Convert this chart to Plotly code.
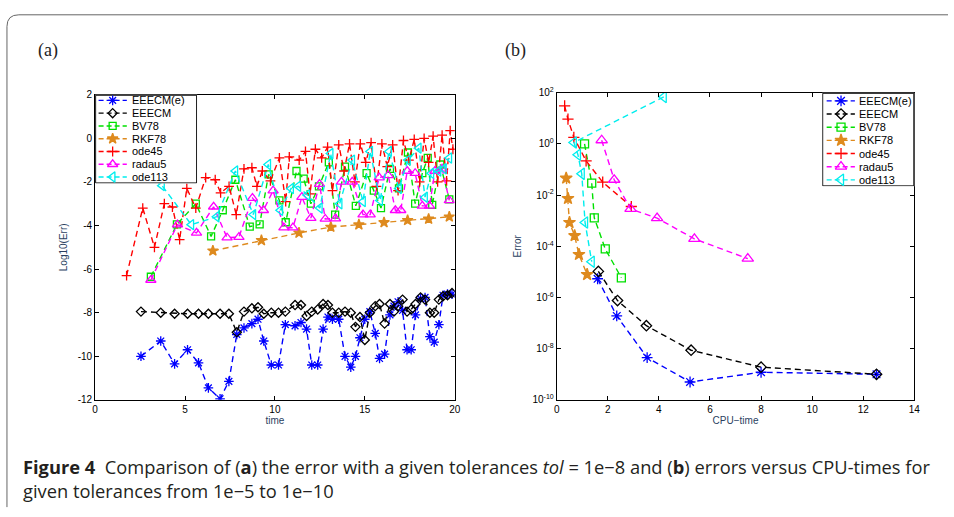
import plotly.graph_objects as go

W, H = 954, 517

# ---------------- Panel (a): Log10(Err) vs time ----------------
t_eeecm = [2.55, 3.65, 4.42, 5.14, 5.75, 6.3, 6.95, 7.44, 7.88, 8.28, 8.72, 9.06, 9.38, 9.8, 10.2,
           10.58, 11.12, 11.45, 11.76, 12.05, 12.38, 12.68, 12.95, 13.2, 13.55, 13.9, 14.22, 14.48,
           14.73, 15.0, 15.28, 15.58, 15.82, 16.1, 16.4, 16.62, 16.85, 17.1, 17.35, 17.58, 17.82,
           18.1, 18.35, 18.62, 18.86, 19.12, 19.35, 19.6, 19.85]
log_err_eeecm_e = [-10.0, -9.3, -10.35, -9.7, -10.3, -11.45, -11.95, -11.15, -9.0, -8.7, -8.5, -8.3,
                   -9.3, -10.4, -10.4, -8.55, -8.6, -8.45, -8.75, -10.4, -10.4, -8.75, -8.2, -8.3,
                   -8.3, -10.0, -10.5, -10.0, -9.15, -8.3, -7.95, -8.95, -10.1, -9.9, -8.1, -7.7,
                   -7.5, -7.9, -9.7, -9.7, -8.1, -7.35, -7.3, -9.1, -9.35, -8.55, -7.2, -7.15, -7.15]
log_err_eeecm = [-7.95, -8.0, -8.05, -8.05, -8.05, -8.05, -8.05, -8.05, -8.9, -7.95, -7.8, -7.75,
                 -8.05, -8.0, -8.0, -7.95, -7.65, -7.65, -8.15, -7.95, -7.85, -7.6, -7.65, -8.0,
                 -8.0, -7.95, -8.0, -8.65, -8.2, -9.25, -8.0, -7.7, -7.6, -8.5, -7.6, -7.95, -7.7,
                 -7.4, -7.95, -7.85, -7.6, -7.3, -7.4, -8.0, -8.0, -7.4, -7.25, -7.2, -7.1]

t_bv78 = [3.1, 4.55, 5.6, 6.45, 7.1, 7.8, 8.6, 9.15, 9.65, 10.25, 10.6, 11.2, 11.6, 12.0, 12.45,
          13.0, 13.35, 13.9, 14.5, 15.1, 15.5, 15.9, 16.4, 16.9, 17.4, 17.8, 18.2, 18.5, 18.75,
          19.2, 19.7]
log_err_bv78 = [-6.35, -3.95, -3.0, -4.5, -3.3, -1.9, -4.05, -3.95, -1.65, -2.85, -3.85, -1.5,
                -1.85, -3.0, -2.2, -1.1, -3.5, -1.3, -3.1, -1.6, -2.4, -3.2, -1.4, -2.3, -0.65,
                -3.0, -1.6, -0.9, -3.05, -1.2, -2.8]

t_rkf78 = [6.55, 9.25, 11.34, 13.11, 14.67, 16.07, 17.38, 18.55, 19.7]
log_err_rkf78 = [-5.16, -4.68, -4.34, -4.07, -3.96, -3.86, -3.76, -3.7, -3.6]

t_ode45 = [1.75, 2.65, 3.3, 3.85, 4.3, 4.7, 5.1, 5.6, 6.15, 6.68, 6.98, 7.45, 7.85, 8.28, 8.72,
           9.0, 9.3, 9.75, 10.25, 10.6, 10.8, 11.35, 11.7, 11.95, 12.25, 12.6, 12.93, 13.2,
           13.55, 13.85, 14.15, 14.45, 14.75, 15.05, 15.35, 15.65, 15.95, 16.25, 16.55, 16.85,
           17.15, 17.45, 17.75, 18.05, 18.3, 18.55, 18.8, 19.05, 19.3, 19.55, 19.75, 19.9]
log_err_ode45 = [-6.3, -3.2, -5.0, -3.0, -3.15, -4.65, -2.3, -3.2, -1.8, -1.9, -2.5, -2.2, -3.5,
                 -1.4, -1.35, -2.2, -1.5, -1.95, -0.9, -2.9, -0.85, -1.0, -0.6, -2.55, -0.5, -0.9,
                 -0.4, -2.4, -0.3, -1.5, -0.25, -2.0, -0.25, -1.1, -0.2, -2.2, -0.25, -1.3, -0.3,
                 -2.4, -0.1, -1.0, -0.05, -2.0, 0.0, -1.1, 0.1, -2.0, 0.15, -1.95, 0.35, -0.5]

t_radau5 = [3.1, 4.58, 5.64, 6.59, 7.34, 8.0, 8.75, 9.36, 9.9, 10.5, 11.0, 11.5, 12.0, 12.48,
            12.8, 13.37, 13.7, 14.3, 14.9, 15.3, 15.8, 16.3, 16.7, 17.0, 17.36, 17.8, 18.2, 18.6,
            18.9, 19.3, 19.7]
log_err_radau5 = [-6.5, -3.96, -4.34, -3.14, -4.56, -4.53, -2.74, -3.3, -2.4, -4.1, -4.1, -2.7,
                  -3.66, -2.1, -3.7, -3.68, -2.0, -2.0, -3.5, -3.5, -1.8, -1.7, -3.3, -3.3, -1.5,
                  -1.6, -3.1, -3.1, -1.5, -1.4, -2.85]

t_ode113 = [2.9, 3.72, 5.35, 6.76, 7.8, 8.8, 9.63, 10.3, 10.9, 11.3, 11.8, 12.5, 13.1, 13.6, 14.3,
            14.9, 15.3, 15.85, 16.35, 16.9, 17.4, 18.0, 18.35, 18.7, 19.1, 19.4, 19.7]
log_err_ode113 = [-1.6, -2.17, -3.96, -3.6, -1.5, -3.5, -1.2, -3.3, -2.3, -2.2, -2.6, -3.2, -0.7,
                  -3.0, -1.0, -2.9, -0.6, -2.85, -0.6, -2.3, -1.0, -0.45, -2.7, -1.6, -1.5, -1.4,
                  -0.9]

a_xticks = [0, 5, 10, 15, 20]
a_yticks = [2, 0, -2, -4, -6, -8, -10, -12]
a_ytext = ["2", "0", "-2", "-4", "-6", "-8", "-10", "-12"]

# ---------------- Panel (b): Error vs CPU-time ----------------
cpu_eeecm_e = [1.6, 2.35, 3.54, 5.22, 8.0, 12.52]
err_eeecm_e = [5.4e-6, 1.9e-7, 4.5e-9, 5.0e-10, 1.2e-9, 1.0e-9]
cpu_eeecm = [1.63, 2.38, 3.51, 5.26, 8.0, 12.52]
err_eeecm = [1.05e-5, 7.6e-7, 7.9e-8, 8.7e-9, 1.9e-9, 1.0e-9]
cpu_bv78 = [1.09, 1.37, 1.47, 1.9, 2.53]
err_bv78 = [1.0, 2.95e-2, 1.3e-3, 7.9e-5, 5.9e-6]
cpu_rkf78 = [0.37, 0.44, 0.5, 0.7, 0.87, 1.19]
err_rkf78 = [4.6e-2, 7.4e-3, 8.5e-4, 2.6e-4, 4.8e-5, 7.9e-6]
cpu_ode45 = [0.31, 0.44, 0.67, 1.15, 1.8, 2.92]
err_ode45 = [31.0, 9.3, 1.8, 0.22, 3.2e-2, 3.6e-3]
cpu_radau5 = [1.76, 2.25, 2.89, 3.93, 5.39, 7.48]
err_radau5 = [1.4, 4.0e-2, 2.9e-3, 1.26e-3, 1.95e-4, 3.3e-5]
cpu_ode113 = [4.19, 0.67, 0.83, 0.98, 1.11, 1.37]
err_ode113 = [69.0, 1.15, 0.38, 6.8e-2, 8.5e-4, 2.5e-5]

b_xticks = [0, 2, 4, 6, 8, 10, 12, 14]
b_yticks = [1e2, 1e0, 1e-2, 1e-4, 1e-6, 1e-8, 1e-10]
b_ytext = ["10<sup>2</sup>", "10<sup>0</sup>", "10<sup>-2</sup>", "10<sup>-4</sup>",
           "10<sup>-6</sup>", "10<sup>-8</sup>", "10<sup>-10</sup>"]

names = ["EEECM(e)", "EEECM", "BV78", "RKF78", "ode45", "radau5", "ode113"]
colors = ["#0000FF", "#000000", "#00E000", "#DE8A1E", "#FF0000", "#FF00FF", "#00EEEE"]
symbols = ["asterisk-open", "diamond-open", "square-open", "star", "cross-thin-open",
           "triangle-up-open", "triangle-left-open"]
size_a = [8, 7, 7, 8, 7, 9, 9]
size_b = [9, 8, 8, 9, 8, 10, 10]

series_a = [(t_eeecm, log_err_eeecm_e), (t_eeecm, log_err_eeecm), (t_bv78, log_err_bv78),
            (t_rkf78, log_err_rkf78), (t_ode45, log_err_ode45), (t_radau5, log_err_radau5),
            (t_ode113, log_err_ode113)]
series_b = [(cpu_eeecm_e, err_eeecm_e), (cpu_eeecm, err_eeecm), (cpu_bv78, err_bv78),
            (cpu_rkf78, err_rkf78), (cpu_ode45, err_ode45), (cpu_radau5, err_radau5),
            (cpu_ode113, err_ode113)]

DASH = "6px,4px"
FONT = "Liberation Sans, Arial, sans-serif"


def fx(px):
    return px / W


def fy(py):
    return 1 - py / H


def marker(i, size):
    return dict(symbol=symbols[i], size=size, color=colors[i],
                line=dict(color=colors[i], width=1.3))


fig = go.Figure()

order = [2, 3, 4, 5, 6, 0, 1]
for i in order:
    x, y = series_a[i]
    fig.add_trace(go.Scatter(x=x, y=y, mode="lines+markers", name=names[i], showlegend=False,
                             line=dict(color=colors[i], width=1.4, dash=DASH),
                             marker=marker(i, size_a[i]), xaxis="x", yaxis="y"))
for i in order:
    x, y = series_b[i]
    fig.add_trace(go.Scatter(x=x, y=y, mode="lines+markers", name=names[i], showlegend=False,
                             line=dict(color=colors[i], width=1.4, dash=DASH),
                             marker=marker(i, size_b[i]), xaxis="x2", yaxis="y2"))

# ---- custom legends (pixel-coordinate overlay axes) ----
legends = [
    dict(box=(93, 90, 196, 181), y0=95.8, dy=13.1, lx=(96.5, 125), mx=110.7, tx=128,
         xa="x3", ya="y3", sizes=size_a),
    dict(box=(827, 88, 920, 184), y0=96.3, dy=13.5, lx=(831.5, 860), mx=846, tx=862.5,
         xa="x4", ya="y4", sizes=size_b),
]
annotations = []
for lg in legends:
    x0, y0, x1, y1 = lg["box"]
    fig.add_trace(go.Scatter(x=[x0 + 0.5, x1 - 0.5, x1 - 0.5, x0 + 0.5, x0 + 0.5],
                             y=[y0 + 0.5, y0 + 0.5, y1 - 0.5, y1 - 0.5, y0 + 0.5],
                             mode="lines", fill="toself", fillcolor="white",
                             line=dict(color="black", width=1), showlegend=False,
                             hoverinfo="skip", xaxis=lg["xa"], yaxis=lg["ya"]))
    for i, nm in enumerate(names):
        yy = lg["y0"] + lg["dy"] * i
        fig.add_trace(go.Scatter(x=list(lg["lx"]), y=[yy, yy], mode="lines", showlegend=False,
                                 line=dict(color=colors[i], width=1.4, dash="5px,3px"),
                                 hoverinfo="skip", xaxis=lg["xa"], yaxis=lg["ya"]))
        fig.add_trace(go.Scatter(x=[lg["mx"]], y=[yy], mode="markers", showlegend=False,
                                 marker=marker(i, lg["sizes"][i]), hoverinfo="skip",
                                 xaxis=lg["xa"], yaxis=lg["ya"]))
        annotations.append(dict(x=lg["tx"], y=yy, xref=lg["xa"], yref=lg["ya"], text=nm,
                                showarrow=False, xanchor="left", yanchor="middle",
                                font=dict(family=FONT, size=11, color="black")))

axis_common = dict(showline=True, linecolor="black", linewidth=1, mirror="ticks",
                   ticks="inside", ticklen=4, tickcolor="black", showgrid=False,
                   zeroline=False, tickfont=dict(family=FONT, size=10, color="black"))

lay = dict(
    width=W, height=H, autosize=False, margin=dict(l=0, r=0, t=0, b=0),
    paper_bgcolor="white", plot_bgcolor="white", showlegend=False,
    xaxis=dict(domain=[fx(93), fx(456)], range=[0, 20], tickvals=a_xticks, anchor="y",
               title=dict(text="time", font=dict(family=FONT, size=10), standoff=2),
               **axis_common),
    yaxis=dict(domain=[fy(403), fy(90)], range=[-12, 2], tickvals=a_yticks, ticktext=a_ytext,
               anchor="x", title=dict(text="Log10(Err)", font=dict(family=FONT, size=10),
                                      standoff=8), **axis_common),
    xaxis2=dict(domain=[fx(559), fx(920)], range=[0, 14], tickvals=b_xticks, anchor="y2",
                title=dict(text="CPU\u2212time", font=dict(family=FONT, size=10), standoff=2),
                **axis_common),
    yaxis2=dict(domain=[fy(403), fy(88)], type="log", range=[-10, 2], tickvals=b_yticks,
                ticktext=b_ytext, anchor="x2",
                title=dict(text="Error", font=dict(family=FONT, size=10), standoff=8),
                **axis_common),
)
for lg in legends:
    x0, y0, x1, y1 = lg["box"]
    xn = lg["xa"].replace("x", "xaxis")
    yn = lg["ya"].replace("y", "yaxis")
    lay[xn] = dict(domain=[fx(x0), fx(x1)], range=[x0, x1], visible=False, fixedrange=True,
                   anchor=lg["ya"])
    lay[yn] = dict(domain=[fy(y1), fy(y0)], range=[y1, y0], visible=False, fixedrange=True,
                   anchor=lg["xa"])

annotations.append(dict(x=fx(45.5), y=fy(45), xref="paper", yref="paper", text="(a)",
                        xanchor="center", yanchor="middle", showarrow=False,
                        font=dict(family="Liberation Serif, serif", size=18, color="#222")))
annotations.append(dict(x=fx(517), y=fy(45), xref="paper", yref="paper", text="(b)",
                        xanchor="center", yanchor="middle", showarrow=False,
                        font=dict(family="Liberation Serif, serif", size=18, color="#222")))
CAP_FONT = "Open Sans, sans-serif"
caption = ("<b>Figure 4</b>\u00a0\u00a0Comparison of (<b>a</b>) the error with a given "
           "tolerances <i>tol</i> = 1e\u22128 and (<b>b</b>) errors versus CPU-times for<br>"
           "given tolerances from 1e\u22125 to 1e\u221210")
annotations.append(dict(x=fx(18), y=fy(484), xref="paper", yref="paper", xanchor="left",
                        yanchor="middle", align="left", showarrow=False, text=caption,
                        font=dict(family=CAP_FONT, size=18.3, color="#231f20")))
lay["annotations"] = annotations

frame = (f"M {fx(4)},{fy(513)} L {fx(4)},{fy(20)} Q {fx(4)},{fy(8)} {fx(16)},{fy(8)} "
         f"L {fx(954)},{fy(8)}")
lay["shapes"] = [dict(type="path", path=frame, xref="paper", yref="paper",
                      line=dict(color="#666666", width=1))]

fig.update_layout(**lay)
fig.write_html("out.html", config={"responsive": False, "displayModeBar": False},
               post_script="document.body.style.margin='0';document.body.style.overflow='hidden';")
